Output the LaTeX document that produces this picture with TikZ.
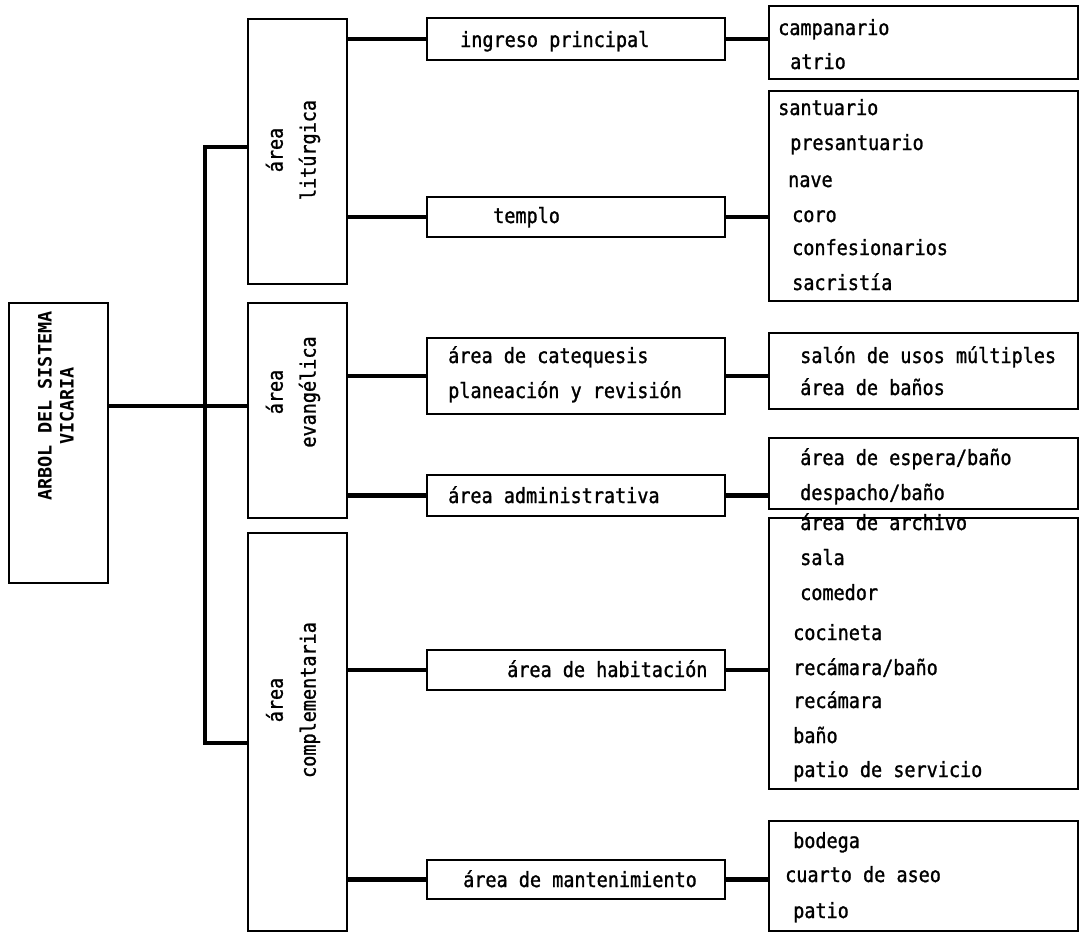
\documentclass[tikz,border=0pt]{standalone}
\usepackage{fontspec}
\newfontfamily\typew[FakeStretch=0.88, FakeBold=1.2]{DejaVu Sans Mono}
\newfontfamily\typewb{DejaVu Sans Mono}
\usetikzlibrary{calc}

\begin{document}
\begin{tikzpicture}[x=1pt, y=-1pt,
    box/.style={draw, line width=1.8pt, inner sep=0pt, anchor=north west},
    link/.style={line width=4.5pt},
    txt/.style={anchor=base west, inner sep=0pt, font=\typew\fontsize{21}{24}\selectfont},
    vtxt/.style={rotate=90, align=center, inner sep=0pt, font=\typew\fontsize{21}{33}\selectfont}]
    \useasboundingbox (0,0) rectangle (1079,932);

    % the root of the tree
    \node[box, minimum width=99pt, minimum height=280pt] (arbol) at (8,302) {};
    \node[rotate=90, align=center, inner sep=0pt, font=\typewb\bfseries\fontsize{18.5}{22}\selectfont] (arboltxt) at (56,406) {ARBOL DEL SISTEMA\\VICARIA};

    % first level: the three areas
    \node[box, minimum width=99pt, minimum height=265pt] (liturgica) at (247,18) {};
    \node[box, minimum width=99pt, minimum height=215pt] (evangelica) at (247,302) {};
    \node[box, minimum width=99pt, minimum height=398pt] (complem) at (247,532) {};
    \node[vtxt] (littxt) at (293,150) {área\\litúrgica};
    \node[vtxt] (evatxt) at (293,392) {área\\evangélica};
    \node[vtxt] (comtxt) at (293,700) {área\\complementaria};

    % second level
    \node[box, minimum width=298pt, minimum height=42pt] (ingreso) at (426,17) {};
    \node[box, minimum width=298pt, minimum height=40pt] (templo) at (426,196) {};
    \node[box, minimum width=298pt, minimum height=76pt] (catequesis) at (426,337) {};
    \node[box, minimum width=298pt, minimum height=41pt] (admin) at (426,474) {};
    \node[box, minimum width=298pt, minimum height=40pt] (habitacion) at (426,649) {};
    \node[box, minimum width=298pt, minimum height=39pt] (manten) at (426,859) {};
    \foreach \x/\y/\t [count=\i] in {460/47/{ingreso principal}, 493/223/templo,
        448/363/{área de catequesis}, 448/398/{planeación y revisión},
        448/503/{área administrativa}, 507/677/{área de habitación},
        463/887/{área de mantenimiento}}
        \node[txt] (b\i) at (\x,\y) {\t};

    % third level: the lists of spaces
    \node[box, minimum width=309pt, minimum height=73pt] (lista1) at (768,5) {};
    \node[box, minimum width=309pt, minimum height=210pt] (lista2) at (768,90) {};
    \node[box, minimum width=309pt, minimum height=76pt] (lista3) at (768,332) {};
    \node[box, minimum width=309pt, minimum height=71pt] (lista4) at (768,437) {};
    \node[box, minimum width=309pt, minimum height=271pt] (lista5) at (768,517) {};
    \node[box, minimum width=309pt, minimum height=110pt] (lista6) at (768,820) {};
    \foreach \x/\y/\t [count=\i] in {778/35/campanario, 790/69/atrio,
        778/115/santuario, 790/150/presantuario, 788/187/nave, 792/222/coro,
        792/255/confesionarios, 792/290/sacristía,
        800/363/{salón de usos múltiples}, 800/395/{área de baños},
        800/465/{área de espera/baño}, 800/500/{despacho/baño},
        800/530/{área de archivo}, 800/565/sala, 800/600/comedor,
        793/640/cocineta, 793/675/{recámara/baño}, 793/708/recámara,
        793/743/baño, 793/777/{patio de servicio},
        793/848/bodega, 785/882/{cuarto de aseo}, 793/918/patio}
        \node[txt] (c\i) at (\x,\y) {\t};

    % the trunk
    \coordinate (top) at (205,147);
    \coordinate (bot) at (205,743);
    \draw[link] (liturgica.west |- top) -- (top) -- (bot) -- (complem.west |- bot);
    \draw[link] (arbol.east |- 0,406) -- (evangelica.west |- 0,406);

    % first level to second level
    \draw[link] (liturgica.east |- ingreso.west) -- (ingreso.west);
    \draw[link] (liturgica.east |- templo.west) -- (templo.west);
    \draw[link] (evangelica.east |- catequesis.west) -- (catequesis.west);
    \draw[link] (evangelica.east |- admin.west) -- (admin.west);
    \draw[link] (complem.east |- habitacion.west) -- (habitacion.west);
    \draw[link] (complem.east |- manten.west) -- (manten.west);

    % second level to the lists
    \draw[link] (ingreso.east) -- (ingreso.east -| lista1.west);
    \draw[link] (templo.east) -- (templo.east -| lista2.west);
    \draw[link] (catequesis.east) -- (catequesis.east -| lista3.west);
    \draw[link] (admin.east) -- (admin.east -| lista4.west);
    \draw[link] (habitacion.east) -- (habitacion.east -| lista5.west);
    \draw[link] (manten.east) -- (manten.east -| lista6.west);
\end{tikzpicture}
\end{document}
